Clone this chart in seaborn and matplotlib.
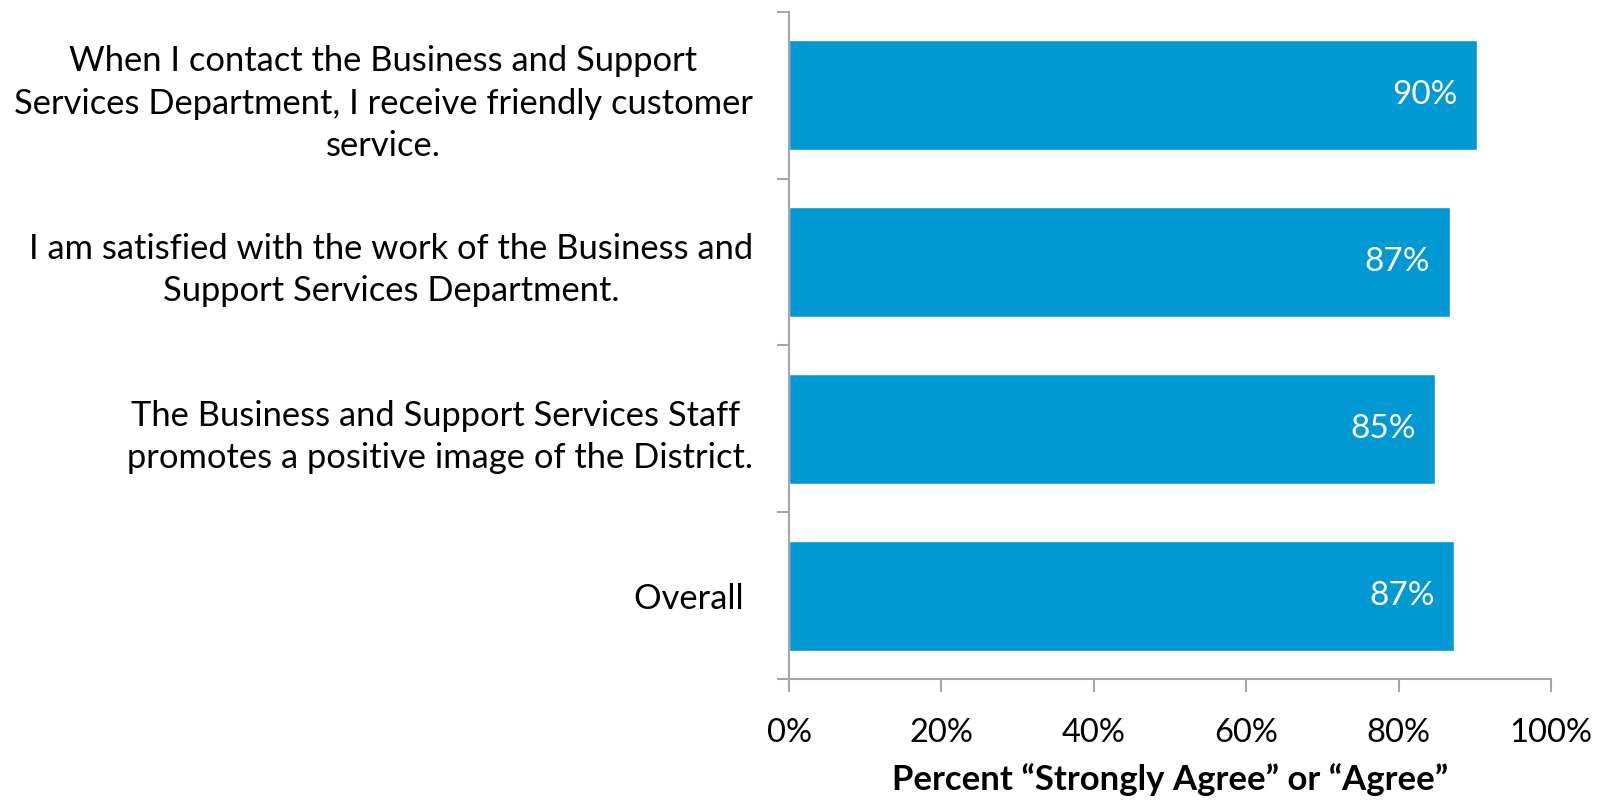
import matplotlib
matplotlib.use("Agg")
import matplotlib.pyplot as plt
import seaborn as sns
import pandas as pd
import numpy as np
from matplotlib.ticker import PercentFormatter, FixedLocator

statements = [
    "When I contact the Business and Support\nServices Department, I receive friendly customer\nservice.",
    "I am satisfied with the work of the Business and\nSupport Services Department.",
    "The Business and Support Services Staff \npromotes a positive image of the District.",
    "Overall ",
]
pct_agree = [90.3, 86.7, 84.8, 87.3]
x_ticks = [0, 20, 40, 60, 80, 100]

sns.set_theme(style="white")
plt.rcParams["font.family"] = ["Lato", "DejaVu Sans"]

df = pd.DataFrame({"statement": statements, "pct": pct_agree})

fig = plt.figure(figsize=(16.08, 8.02), dpi=100)
ax = fig.add_axes([0.4907, 0.1534, 0.4739, 0.8317])

bar_color = "#0099d3"
sns.barplot(data=df, x="pct", y="statement", orient="h", color=bar_color,
            width=0.66, saturation=1, ax=ax)

ax.set_xlim(0, 100)
ax.set_ylim(len(statements) - 0.5, -0.5)

axis_gray = "#a6a6a6"
for side in ["top", "right"]:
    ax.spines[side].set_visible(False)
for side in ["left", "bottom"]:
    ax.spines[side].set_color(axis_gray)
    ax.spines[side].set_linewidth(1.5)

# x axis: percent ticks
ax.xaxis.set_major_locator(FixedLocator(x_ticks))
ax.xaxis.set_major_formatter(PercentFormatter(100, decimals=0))
ax.tick_params(axis="x", which="major", direction="out", length=9, width=1.5,
               color=axis_gray, pad=19, labelsize=23.5, labelcolor="black", bottom=True)

# y axis: labels at category centres, tick marks at category boundaries
ax.tick_params(axis="y", which="major", length=0, pad=26, labelsize=24.8, labelcolor="black")
for lbl in ax.get_yticklabels():
    lbl.set_multialignment("center")
    lbl.set_linespacing(1.4)
ax.yaxis.set_minor_locator(FixedLocator(np.arange(-0.5, len(statements), 1.0)))
ax.tick_params(axis="y", which="minor", direction="out", length=9, width=1.5,
               color=axis_gray, left=True)

ax.set_ylabel("")
ax.set_xlabel("Percent \u201cStrongly Agree\u201d or \u201cAgree\u201d", fontsize=25,
              fontweight="bold", labelpad=11, color="black")

# value labels inside the bar ends
for i, v in enumerate(pct_agree):
    ax.annotate(f"{v:.0f}%", xy=(v, i), xytext=(-14, 0), textcoords="offset points",
                ha="right", va="center", color="white", fontsize=24)

fig.savefig("out.png", dpi=100)
